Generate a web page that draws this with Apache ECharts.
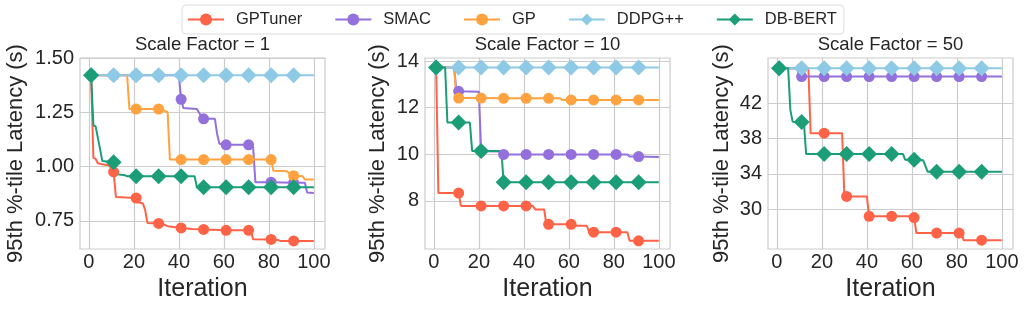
<!DOCTYPE html>
<html><head><meta charset="utf-8">
<script src="https://cdn.jsdelivr.net/npm/echarts@6/dist/echarts.min.js"></script>
<style>html,body{margin:0;padding:0;background:#fff}#c{width:1027px;height:309px}</style>
</head><body><div id="c"></div>
<script>
// ---------- data ----------
const seriesNames = ['GPTuner', 'SMAC', 'GP', 'DDPG++', 'DB-BERT'];
const panelTitles = ['Scale Factor = 1', 'Scale Factor = 10', 'Scale Factor = 50'];
const xTicks = [0, 20, 40, 60, 80, 100];
const yTicksSF1 = [0.75, 1.00, 1.25, 1.50];
const yTicksSF10 = [8, 10, 12, 14];
const yTicksSF50 = [30, 34, 38, 42];
const markerIterations = [1, 11, 21, 31, 41, 51, 61, 71, 81, 91];

// Scale Factor = 1  ([iteration, latency])
const sf1_GPTuner = [[1,1.42],[2,1.04],[3,1.035],[4,1.015],[6,1.01],[9,1.005],[10,0.99],[11,0.975],[12,0.86],[21,0.855],[22,0.835],[24,0.83],[25,0.80],[26,0.74],[31,0.738],[33,0.735],[35,0.725],[41,0.717],[46,0.712],[51,0.71],[61,0.706],[71,0.706],[72,0.705],[73,0.665],[81,0.664],[84,0.662],[85,0.657],[91,0.657],[100,0.657]];
const sf1_SMAC = [[1,1.42],[11,1.42],[21,1.42],[31,1.42],[40,1.42],[41,1.31],[42,1.27],[48,1.265],[50,1.23],[51,1.22],[56,1.22],[57,1.15],[58,1.105],[61,1.10],[71,1.10],[73,1.09],[74,0.928],[81,0.928],[91,0.925],[96,0.925],[97,0.88],[100,0.878]];
const sf1_GP = [[1,1.42],[11,1.42],[17,1.42],[18,1.265],[21,1.265],[31,1.265],[33,1.26],[35,1.25],[36,1.032],[41,1.032],[51,1.032],[61,1.032],[71,1.032],[81,1.032],[82,0.98],[88,0.978],[90,0.962],[91,0.958],[95,0.955],[96,0.94],[100,0.94]];
const sf1_DDPG = [[1,1.42],[11,1.42],[21,1.42],[31,1.42],[41,1.42],[51,1.42],[61,1.42],[71,1.42],[81,1.42],[91,1.42],[100,1.42]];
const sf1_DBBERT = [[1,1.42],[2,1.19],[3,1.185],[6,1.025],[11,1.02],[12,0.965],[16,0.96],[17,0.955],[21,0.955],[31,0.955],[41,0.955],[47,0.955],[48,0.905],[51,0.905],[61,0.905],[71,0.905],[81,0.905],[91,0.905],[100,0.905]];

// Scale Factor = 10
const sf10_GPTuner = [[1,13.72],[2,8.33],[11,8.33],[12,7.78],[21,7.78],[31,7.78],[41,7.78],[44,7.78],[45,7.63],[49,7.63],[50,6.99],[51,6.99],[61,6.99],[62,6.99],[63,6.93],[68,6.93],[69,6.65],[71,6.65],[81,6.65],[86,6.65],[87,6.28],[91,6.28],[100,6.28]];
const sf10_SMAC = [[1,13.72],[9,13.72],[10,12.72],[11,12.70],[20,12.68],[21,10.13],[30,10.12],[31,9.99],[41,9.99],[51,9.99],[61,9.99],[71,9.99],[81,9.99],[86,9.99],[87,9.9],[91,9.9],[100,9.88]];
const sf10_GP = [[1,13.72],[9,13.72],[10,12.42],[11,12.41],[21,12.41],[31,12.40],[41,12.40],[51,12.40],[56,12.40],[57,12.33],[61,12.33],[71,12.33],[81,12.33],[91,12.33],[100,12.33]];
const sf10_DDPG = [[1,13.72],[11,13.72],[21,13.72],[31,13.72],[41,13.72],[51,13.72],[61,13.72],[71,13.72],[81,13.72],[91,13.72],[100,13.72]];
const sf10_DBBERT = [[1,13.72],[5,13.72],[6,11.36],[11,11.36],[16,11.36],[17,10.14],[21,10.14],[30,10.14],[31,8.8],[41,8.8],[51,8.8],[61,8.8],[71,8.8],[81,8.8],[91,8.8],[100,8.8]];

// Scale Factor = 50
const sf50_GPTuner = [[1,45.95],[11,45.95],[14,45.95],[15,38.6],[21,38.6],[29,38.6],[30,31.45],[31,31.45],[40,31.45],[41,29.2],[51,29.2],[60,29.2],[61,29.05],[62,27.3],[71,27.3],[81,27.3],[82,27.3],[83,26.5],[91,26.5],[100,26.5]];
const sf50_SMAC = [[1,45.95],[9,45.95],[10,45.0],[11,45.0],[21,45.0],[31,45.0],[41,45.0],[51,45.0],[61,45.0],[71,45.0],[81,45.0],[91,45.0],[100,45.0]];
const sf50_DDPG = [[1,45.95],[11,45.95],[21,45.95],[31,45.95],[41,45.95],[51,45.95],[61,45.95],[71,45.95],[81,45.95],[91,45.95],[100,45.95]];
const sf50_DBBERT = [[1,45.95],[5,45.95],[6,41.2],[7,39.9],[11,39.85],[12,39.8],[13,36.25],[21,36.25],[31,36.25],[41,36.25],[51,36.25],[56,36.25],[57,35.6],[61,35.6],[65,35.55],[67,34.25],[71,34.25],[81,34.25],[91,34.25],[100,34.25]];

// ---------- styling ----------
const styles = {
  'GPTuner': {color: '#FF6347', symbol: 'circle', size: 11},
  'SMAC':    {color: '#9370DB', symbol: 'circle', size: 11},
  'GP':      {color: '#FFA23F', symbol: 'circle', size: 11},
  'DDPG++':  {color: '#8ECAE6', symbol: 'diamond', size: 16},
  'DB-BERT': {color: '#1B9E77', symbol: 'diamond', size: 16}
};
const FONT = 'Liberation Sans, Arial, sans-serif';
const TXT = '#262626';
const GRIDC = '#cccccc';

const panels = [
  {left: 80,  yMin: 0.62, yMax: 1.50, yTicks: yTicksSF1, fmt: v => Number(v).toFixed(2), nameGap: 53,
   data: {'GPTuner': sf1_GPTuner, 'SMAC': sf1_SMAC, 'GP': sf1_GP, 'DDPG++': sf1_DDPG, 'DB-BERT': sf1_DBBERT}},
  {left: 425, yMin: 5.93, yMax: 14.13, yTicks: yTicksSF10, fmt: v => String(v), nameGap: 36,
   data: {'GPTuner': sf10_GPTuner, 'SMAC': sf10_SMAC, 'GP': sf10_GP, 'DDPG++': sf10_DDPG, 'DB-BERT': sf10_DBBERT}},
  {left: 768, yMin: 25.5, yMax: 47.1, yTicks: yTicksSF50, fmt: v => String(v), nameGap: 35,
   data: {'GPTuner': sf50_GPTuner, 'SMAC': sf50_SMAC, 'DDPG++': sf50_DDPG, 'DB-BERT': sf50_DBBERT}}
];
const GW = 245, GT = 58, GH = 191;

const grids = [], xAxes = [], yAxes = [], series = [], graphics = [];
panels.forEach((p, i) => {
  grids.push({left: p.left, top: GT, width: GW, height: GH, show: true, borderColor: GRIDC, borderWidth: 1.2, backgroundColor: '#fff', containLabel: false});
  xAxes.push({
    type: 'value', gridIndex: i, min: -3.95, max: 104.95,
    name: 'Iteration', nameLocation: 'middle', nameGap: 25,
    nameTextStyle: {fontSize: 25, color: TXT, fontFamily: FONT},
    axisLine: {show: false},
    axisTick: {show: false, customValues: xTicks},
    axisLabel: {customValues: xTicks, fontSize: 20, color: TXT, fontFamily: FONT, margin: 3},
    splitLine: {show: true, lineStyle: {color: GRIDC, width: 1.2}}
  });
  yAxes.push({
    type: 'value', gridIndex: i, min: p.yMin, max: p.yMax,
    name: '95th %-tile Latency (s)', nameLocation: 'middle', nameGap: p.nameGap, nameRotate: 90,
    nameTextStyle: {fontSize: 22, color: TXT, fontFamily: FONT},
    axisLine: {show: false},
    axisTick: {show: false, customValues: p.yTicks},
    axisLabel: {customValues: p.yTicks, fontSize: 20, color: TXT, fontFamily: FONT, margin: 6, formatter: p.fmt},
    splitLine: {show: true, lineStyle: {color: GRIDC, width: 1.2}}
  });
  seriesNames.forEach(name => {
    const d = p.data[name];
    if (!d) return;
    const st = styles[name];
    series.push({
      type: 'line', name: name, xAxisIndex: i, yAxisIndex: i, data: d,
      color: st.color, symbol: st.symbol,
      symbolSize: v => markerIterations.indexOf(v[0]) >= 0 ? st.size : 0,
      showSymbol: true, lineStyle: {color: st.color, width: 2},
      itemStyle: {color: st.color, borderWidth: 0},
      emphasis: {disabled: true}, animation: false, clip: false
    });
  });
  graphics.push({type: 'text', x: p.left + GW / 2, y: 45,
    style: {text: panelTitles[i], fontSize: 18.5, fill: TXT, fontFamily: FONT,
            align: 'center', verticalAlign: 'middle', textAlign: 'center', textVerticalAlign: 'middle'}});
});

const chart = echarts.init(document.getElementById('c'), null, {renderer: 'canvas'});
chart.setOption({
  backgroundColor: '#fff',
  animation: false,
  legend: {
    data: seriesNames, left: 182, top: 5, orient: 'horizontal',
    padding: [6, 7, 6, 5], itemGap: 32, itemWidth: 36, itemHeight: 15,
    borderColor: '#dddddd', borderWidth: 1, borderRadius: 4, backgroundColor: '#fff',
    selectedMode: false,
    textStyle: {fontSize: 16.5, color: TXT, fontFamily: FONT, padding: [0, 0, 0, 7]}
  },
  grid: grids, xAxis: xAxes, yAxis: yAxes, series: series, graphic: graphics
});
</script></body></html>
